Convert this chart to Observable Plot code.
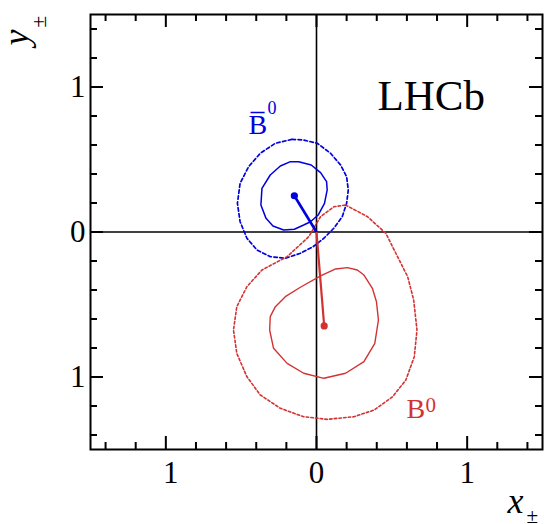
<!DOCTYPE html>
<html>
<head>
<meta charset="utf-8">
<script src="https://cdn.jsdelivr.net/npm/d3@7"></script>
<script src="https://cdn.jsdelivr.net/npm/@observablehq/plot@0.6"></script>
<style>
  html, body { margin: 0; padding: 0; background: #fff; }
  svg { display: block; }
</style>
</head>
<body>
<div id="chart"></div>
<script>
// ---- data ----
const blueCentre = [-0.147, 0.25];
const redCentre = [0.051, -0.648];

const blueInner = [
  [-0.173, 0.485], [-0.118, 0.485], [-0.035, 0.462], [0.027, 0.409], [0.067, 0.347],
  [0.071, 0.29], [0.053, 0.198], [0.011, 0.117], [-0.04, 0.071], [-0.085, 0.048],
  [-0.147, 0.019], [-0.218, 0.014], [-0.289, 0.041], [-0.335, 0.094], [-0.369, 0.186],
  [-0.362, 0.301], [-0.307, 0.393], [-0.24, 0.455]
];
const blueOuter = [
  [-0.162, 0.639], [-0.085, 0.634], [0.005, 0.612], [0.093, 0.543], [0.16, 0.462],
  [0.2, 0.381], [0.211, 0.29], [0.2, 0.198], [0.171, 0.106], [0.115, 0.026],
  [0.049, -0.043], [-0.022, -0.101], [-0.107, -0.147], [-0.207, -0.181], [-0.307, -0.17],
  [-0.395, -0.124], [-0.462, -0.043], [-0.507, 0.071], [-0.525, 0.198], [-0.507, 0.336],
  [-0.451, 0.45], [-0.373, 0.543], [-0.273, 0.612]
];
const redInner = [
  [0.205, -0.246], [0.127, -0.255], [0.027, -0.303], [-0.107, -0.381], [-0.207, -0.446],
  [-0.273, -0.515], [-0.307, -0.584], [-0.311, -0.676], [-0.285, -0.802], [-0.195, -0.906],
  [-0.085, -0.974], [0.049, -1.009], [0.193, -0.974], [0.315, -0.894], [0.387, -0.768],
  [0.411, -0.607], [0.398, -0.481], [0.371, -0.388], [0.315, -0.297], [0.271, -0.262]
];
const redOuter = [
  [0.193, 0.186], [0.338, 0.106], [0.46, -0.009], [0.538, -0.17], [0.605, -0.308],
  [0.645, -0.469], [0.667, -0.676], [0.649, -0.86], [0.593, -1.021], [0.505, -1.136],
  [0.382, -1.228], [0.249, -1.274], [0.071, -1.292], [-0.085, -1.274], [-0.24, -1.216],
  [-0.373, -1.124], [-0.462, -0.998], [-0.529, -0.837], [-0.551, -0.676], [-0.529, -0.515],
  [-0.462, -0.377], [-0.362, -0.262], [-0.195, -0.17], [-0.051, -0.032], [0.027, 0.106],
  [0.115, 0.174]
];

const xTickValues = [-1, 0, 1];
const xTickLabels = ["1", "0", "1"];
const yTickValues = [-1, 0, 1];
const yTickLabels = ["1", "0", "1"];
const minorTickValues = [-1.4, -1.2, -0.8, -0.6, -0.4, -0.2, 0.2, 0.4, 0.6, 0.8, 1.2, 1.4];
const domain = [-1.5, 1.5];

// ---- style ----
const BLUE = "#0000dd";
const RED = "#d33232";
const FONT = "Liberation Serif, Times New Roman, serif";
const W = 544, H = 524;
const M = {top: 14, right: 2, bottom: 75, left: 90};
const innerW = W - M.left - M.right;
const innerH = H - M.top - M.bottom;
const MAJ = 13, MIN = 7;

const xTicks = xTickValues.map((v, i) => ({v, label: xTickLabels[i]}));
const yTicks = yTickValues.map((v, i) => ({v, label: yTickLabels[i]}));

const xy = {x: d => d[0], y: d => d[1]};

const chart = Plot.plot({
  width: W, height: H,
  marginTop: M.top, marginRight: M.right, marginBottom: M.bottom, marginLeft: M.left,
  x: {domain, axis: null},
  y: {domain, axis: null},
  style: {fontFamily: FONT, background: "white", color: "black"},
  marks: [
    // zero lines
    Plot.ruleX([0], {stroke: "black", strokeWidth: 1.6}),
    Plot.ruleY([0], {stroke: "black", strokeWidth: 1.6}),
    // contours
    Plot.line(blueOuter, {...xy, curve: "linear-closed", stroke: BLUE, strokeWidth: 1.7, strokeDasharray: "3.5,2.5"}),
    Plot.line(blueInner, {...xy, curve: "linear-closed", stroke: BLUE, strokeWidth: 1.5}),
    Plot.line(redOuter, {...xy, curve: "linear-closed", stroke: RED, strokeWidth: 1.6, strokeDasharray: "2.5,2.2"}),
    Plot.line(redInner, {...xy, curve: "linear-closed", stroke: RED, strokeWidth: 1.4}),
    // central values joined to origin
    Plot.link([blueCentre], {x1: d => 0, y1: d => 0, x2: d => d[0], y2: d => d[1], stroke: BLUE, strokeWidth: 2.6}),
    Plot.link([redCentre], {x1: d => 0, y1: d => 0, x2: d => d[0], y2: d => d[1], stroke: RED, strokeWidth: 2.2}),
    Plot.dot([blueCentre], {...xy, r: 3.6, fill: BLUE, stroke: null}),
    Plot.dot([redCentre], {...xy, r: 3.6, fill: RED, stroke: null}),
    // inward ticks: bottom, top, left, right
    Plot.ruleX(xTickValues, {x: d => d, insetTop: innerH - MAJ, strokeWidth: 2}),
    Plot.ruleX(minorTickValues, {x: d => d, insetTop: innerH - MIN, strokeWidth: 2}),
    Plot.ruleX(xTickValues, {x: d => d, insetBottom: innerH - MAJ, strokeWidth: 2}),
    Plot.ruleX(minorTickValues, {x: d => d, insetBottom: innerH - MIN, strokeWidth: 2}),
    Plot.ruleY(yTickValues, {y: d => d, insetRight: innerW - MAJ, strokeWidth: 2}),
    Plot.ruleY(minorTickValues, {y: d => d, insetRight: innerW - MIN, strokeWidth: 2}),
    Plot.ruleY(yTickValues, {y: d => d, insetLeft: innerW - MAJ, strokeWidth: 2}),
    Plot.ruleY(minorTickValues, {y: d => d, insetLeft: innerW - MIN, strokeWidth: 2}),
    Plot.frame({stroke: "black", strokeWidth: 2}),
    // tick labels
    Plot.text(xTicks.filter(d => d.v >= 0), {x: "v", text: "label", frameAnchor: "bottom", dy: 33, lineAnchor: "bottom", fontSize: 31, fill: "black"}),
    Plot.text(xTicks.filter(d => d.v < 0), {x: "v", text: "label", frameAnchor: "bottom", dx: 5, dy: 33, lineAnchor: "bottom", fontSize: 31, fill: "black"}),
    Plot.text(yTicks, {y: "v", text: "label", frameAnchor: "left", textAnchor: "end", dx: -5, lineAnchor: "middle", fontSize: 31, fill: "black"}),
    // axis titles
    Plot.text(["y"], {text: d => d, frameAnchor: "top-left", dx: -63, dy: 31, rotate: -90, textAnchor: "start", lineAnchor: "bottom", fontSize: 36, fontStyle: "italic", fill: "black"}),
    Plot.text(["±"], {text: d => d, frameAnchor: "top-left", dx: -45, dy: 13, rotate: -90, textAnchor: "start", lineAnchor: "bottom", fontSize: 21, fill: "black"}),
    Plot.text(["x"], {text: d => d, frameAnchor: "bottom-right", dx: -35, dy: 63, textAnchor: "start", lineAnchor: "bottom", fontSize: 36, fontStyle: "italic", fill: "black"}),
    Plot.text(["±"], {text: d => d, frameAnchor: "bottom-right", dx: -16, dy: 73, textAnchor: "start", lineAnchor: "bottom", fontSize: 21, fill: "black"}),
    // annotations
    Plot.text(["LHCb"], {text: d => d, frameAnchor: "top-left", dx: 287, dy: 95, textAnchor: "start", lineAnchor: "bottom", fontSize: 43, fill: "black"}),
    Plot.text(["B\u0305"], {text: d => d, frameAnchor: "top-left", dx: 158, dy: 119, textAnchor: "start", lineAnchor: "bottom", fontSize: 28, fill: BLUE}),
    Plot.text(["0"], {text: d => d, frameAnchor: "top-left", dx: 177, dy: 99, textAnchor: "start", lineAnchor: "bottom", fontSize: 18, fill: BLUE}),
    Plot.text(["B"], {text: d => d, frameAnchor: "top-left", dx: 316, dy: 403, textAnchor: "start", lineAnchor: "bottom", fontSize: 28, fill: RED}),
    Plot.text(["0"], {text: d => d, frameAnchor: "top-left", dx: 335, dy: 397, textAnchor: "start", lineAnchor: "bottom", fontSize: 21, fill: RED})
  ]
});
document.getElementById("chart").appendChild(chart);
</script>
</body>
</html>
